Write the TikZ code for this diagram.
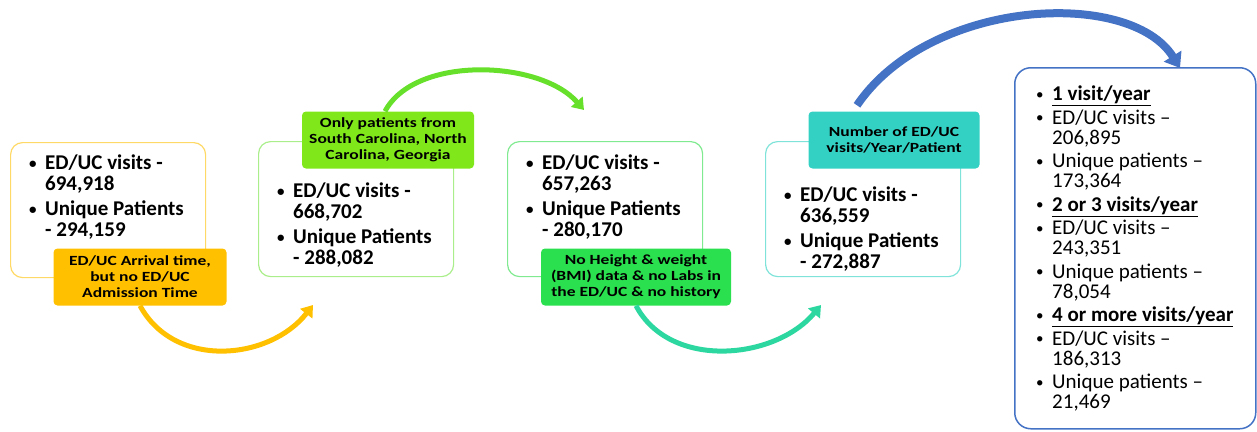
\documentclass[tikz,border=0pt]{standalone}
\usepackage{fontspec}
\setmainfont{Carlito}
\newfontfamily\labelfont[FakeStretch=1.25]{Carlito}
\usetikzlibrary{arrows.meta}
\definecolor{orangeFill}{HTML}{FFC000}
\definecolor{orangeLine}{HTML}{FFD966}
\definecolor{limeFill}{HTML}{80E81A}
\definecolor{limeArrow}{HTML}{66E02A}
\definecolor{limeLine}{HTML}{A9EE8A}
\definecolor{greenFill}{HTML}{2BE04F}
\definecolor{greenLine}{HTML}{80EA90}
\definecolor{tealArrow}{HTML}{2DD8A0}
\definecolor{tealFill}{HTML}{33D1C4}
\definecolor{tealLine}{HTML}{7FE3DA}
\definecolor{blueLine}{HTML}{4472C4}
\newcommand{\bul}{\makebox[16pt][l]{\raisebox{1.5pt}{\fontsize{15}{15}\selectfont\textbullet}}}
\newcommand{\ind}{\hspace*{16pt}}

\begin{document}
\begin{tikzpicture}[x=1pt,y=-1pt]
\tikzset{StepBox/.style={draw,line width=1.2pt,rounded corners=12pt,anchor=north west,inner sep=0pt,minimum width=195pt,minimum height=135pt}}
\tikzset{LabelBox/.style={rounded corners=4pt,align=center,inner sep=0pt,minimum height=57pt,font=\labelfont\bfseries\fontsize{14}{16}\selectfont}}
\tikzset{ItemText/.style={anchor=north west,align=left,inner sep=0pt,font=\bfseries\fontsize{21}{21}\selectfont}}
\tikzset{VisitText/.style={anchor=north west,align=left,inner sep=0pt,font=\fontsize{21}{20}\selectfont}}
\tikzset{FlowArrow/.style={line width=5pt,-{Triangle[length=11pt,width=15pt]}}}
\useasboundingbox (0,0) rectangle (1257,431);

% boxes
\node[StepBox,draw=orangeLine] (box1) at (10,142) {};
\node[StepBox,draw=limeLine] (box2) at (258,141) {};
\node[StepBox,draw=greenLine] (box3) at (507,141) {};
\node[StepBox,draw=tealLine] (box4) at (765,141) {};
\node[StepBox,draw=blueLine,line width=1.5pt,rounded corners=16pt,minimum width=241pt,minimum height=361pt] (box5) at (1014,67) {};

% labels
\node[LabelBox,fill=orangeFill,minimum width=173pt] (lab1) at (140,277) {ED/UC Arrival time,\\but no ED/UC\\Admission Time};
\node[LabelBox,fill=limeFill,minimum width=172pt] (lab2) at (388,140) {Only patients from\\South Carolina, North\\Carolina, Georgia};
\node[LabelBox,fill=greenFill,minimum width=190pt] (lab3) at (636,277) {No Height \& weight\\(BMI) data \& no Labs in\\the ED/UC \& no history};
\node[LabelBox,fill=tealFill,minimum width=171pt] (lab4) at (894,140) {Number of ED/UC\\visits/Year/Patient};

% arrow ends
\coordinate (end1) at (313,305);
\coordinate (end2) at (584,110);
\coordinate (end3) at (821,305);
\coordinate (end4) at (1180,68);

\draw[FlowArrow,orangeFill] (lab1.south) .. controls (175,370) and (270,360) .. (end1);
\draw[FlowArrow,limeArrow] ([xshift=-3pt]lab2.north) .. controls (415,55) and (540,60) .. (end2);
\draw[FlowArrow,tealArrow] (lab3.south) .. controls (670,370) and (775,360) .. (end3);
\draw[FlowArrow,blueLine,line width=8pt,-{Triangle[length=14pt,width=20pt]}] ([xshift=-37pt,yshift=6pt]lab4.north) .. controls (930,-2) and (1130,-12) .. (end4);

% texts
\node[ItemText] (txt1) at (29,155) {\bul ED/UC visits -\\\ind 694,918\\[4pt]\bul Unique Patients\\\ind - 294,159};
\node[ItemText] (txt2) at (277,183) {\bul ED/UC visits -\\\ind 668,702\\[4pt]\bul Unique Patients\\\ind - 288,082};
\node[ItemText] (txt3) at (526,155) {\bul ED/UC visits -\\\ind 657,263\\[4pt]\bul Unique Patients\\\ind - 280,170};
\node[ItemText] (txt4) at (784,187) {\bul ED/UC visits -\\\ind 636,559\\[4pt]\bul Unique Patients\\\ind - 272,887};
\node[VisitText] (txt5) at (1036,86) {\bul\textbf{\underline{1 visit/year}}\\[3.5pt]
\bul ED/UC visits --\\\ind 206,895\\[3.5pt]
\bul Unique patients --\\\ind 173,364\\[3.5pt]
\bul\textbf{\underline{2 or 3 visits/year}}\\[3.5pt]
\bul ED/UC visits --\\\ind 243,351\\[3.5pt]
\bul Unique patients --\\\ind 78,054\\[3.5pt]
\bul\textbf{\underline{4 or more visits/year}}\\[3.5pt]
\bul ED/UC visits --\\\ind 186,313\\[3.5pt]
\bul Unique patients --\\\ind 21,469};
\end{tikzpicture}
\end{document}
